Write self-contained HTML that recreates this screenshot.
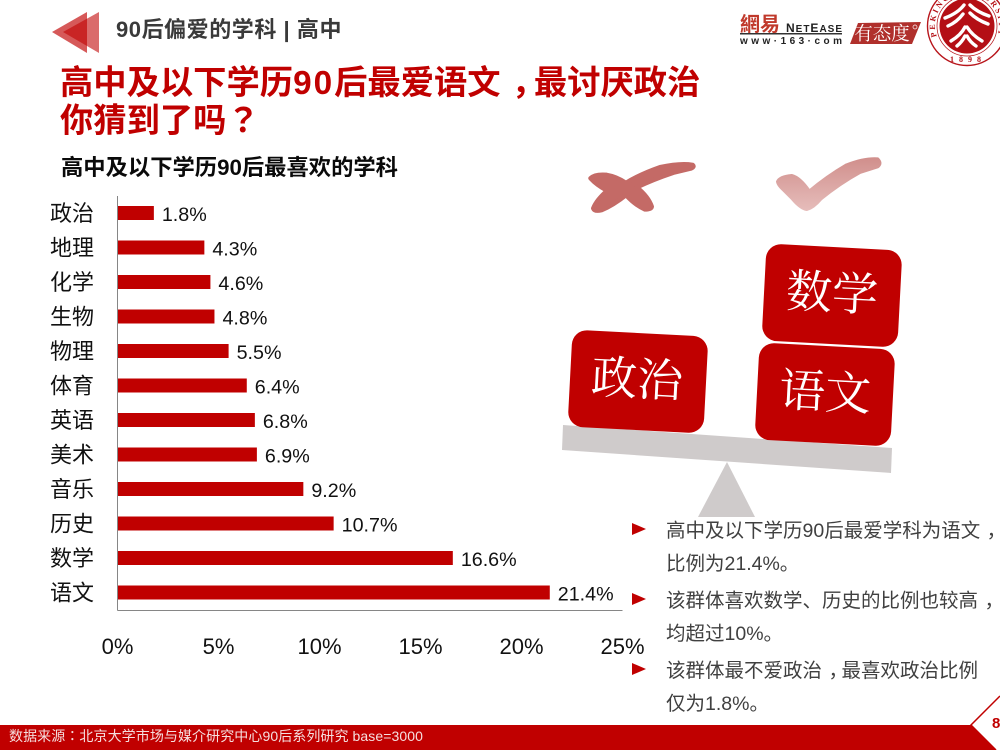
<!DOCTYPE html>
<html lang="zh-CN">
<head>
<meta charset="utf-8">
<title>90后偏爱的学科 | 高中</title>
<style>
html,body{margin:0;padding:0;background:#fff}
#page{position:relative;width:1000px;height:750px;overflow:hidden;background:#fff;font-family:"Liberation Sans","Noto Sans CJK SC",sans-serif}
.t{position:absolute;white-space:nowrap;margin:0}
.p{font-family:"Noto Sans CJK TC",sans-serif}
.c{position:relative;left:.33em}
svg{position:absolute;left:0;top:0}
</style>
</head>
<body>
<div id="page">
<svg id="deco" width="1000" height="750" viewBox="0 0 1000 750">
  <g>
    <polygon points="52,32 87,12 87,53" fill="#c00000" opacity=".65"/>
    <polygon points="63,32 99,12 99,53" fill="#c00000" opacity=".58"/>
  </g>
  <g transform="translate(550 150) scale(.3333)">
    <path fill="#c46a66" stroke="#c46a66" stroke-width="14" stroke-linejoin="round" d="M122,85 Q135,72 170,75 Q200,80 228,99 Q270,73 330,52 Q390,39 428,45 Q434,50 423,55 L370,68 Q310,88 260,112 Q295,140 305,170 Q303,178 285,178 Q255,165 228,135 Q190,165 155,180 Q134,185 130,175 Q140,150 172,122 Q140,105 122,85 Z"/>
  </g>
  <g transform="translate(550 150) scale(.3333)">
    <defs><linearGradient id="chk" gradientUnits="userSpaceOnUse" x1="0" y1="20" x2="0" y2="183"><stop offset="0" stop-color="#d08e8b"/><stop offset="1" stop-color="#e6bdbb"/></linearGradient></defs>
    <path fill="url(#chk)" stroke="url(#chk)" stroke-width="10" stroke-linejoin="round" d="M683,95 Q690,80 725,77 Q750,83 778,124 Q830,80 890,45 Q945,24 983,27 Q996,40 983,50 L930,67 Q870,100 812,147 Q790,173 770,178 Q752,175 728,147 L698,117 Q685,105 683,95 Z"/>
  </g>
  <g>
    <polygon points="563,425 892,448 891,473 562,450" fill="#cfcbcb"/>
    <polygon points="727,462 755,517 698,517" fill="#cfcbcb"/>
  </g>
  <g font-family="'Liberation Serif','Noto Serif CJK SC',serif" fill="#fff" font-size="46">
    <g transform="rotate(3 637 381)">
      <rect x="570" y="333" width="136" height="97" rx="15" fill="#c00000"/>
      <text x="637" y="395" text-anchor="middle">政治</text>
    </g>
    <g transform="rotate(3 832 295)">
      <rect x="764" y="247" width="136" height="97" rx="15" fill="#c00000"/>
      <text x="832" y="309" text-anchor="middle">数学</text>
    </g>
    <g transform="rotate(3 825 394)">
      <rect x="757" y="346" width="136" height="97" rx="15" fill="#c00000"/>
      <text x="825" y="408" text-anchor="middle">语文</text>
    </g>
  </g>
  <g>
    <text x="740" y="31" font-size="20" font-weight="700" fill="#c0392b" font-family="'Noto Sans CJK TC',sans-serif">網易</text>
    <text x="786" y="32" font-size="10" font-weight="700" fill="#222" font-family="'Liberation Sans',sans-serif" textLength="56" lengthAdjust="spacing"><tspan font-size="12">N</tspan>ET<tspan font-size="12">E</tspan>ASE</text>
    <rect x="740" y="33" width="102" height="1.5" fill="#333"/>
    <text x="740" y="44" font-size="10" font-weight="700" fill="#222" font-family="'Liberation Sans',sans-serif" textLength="102" lengthAdjust="spacing">www·163·com</text>
  </g>
  <g>
    <polygon points="858,23 921,22 912,44 850,44" fill="#b0302c"/>
    <text x="882" y="40" font-size="18.5" fill="#fff" text-anchor="middle" font-family="'Noto Serif CJK SC',serif">有态度</text>
    <circle cx="915" cy="27" r="2" fill="none" stroke="#fff" stroke-width=".7"/>
  </g>
  <g>
    <circle cx="967" cy="26" r="39.5" fill="#fff" stroke="#b8151b" stroke-width="1.4"/>
    <circle cx="967" cy="26" r="27.5" fill="#b40f15"/>
    <circle cx="967" cy="26" r="30" fill="none" stroke="#b40f15" stroke-width=".7"/>
    <g fill="none" stroke="#fff" stroke-width="3.4" stroke-linecap="round">
      <path d="M964,5 Q958,13 945,18"/>
      <path d="M963,14 Q957,22 948,26"/>
      <path d="M970,5 Q977,12 989,16"/>
      <path d="M970,13 Q977,20 988,24"/>
      <path d="M965,27 Q961,35 951,41"/>
      <path d="M967,27 Q972,35 982,41"/>
      <path d="M965,36 Q962,42 957,46"/>
      <path d="M967,36 Q970,42 976,46"/>
    </g>
    <path id="sealArc" d="M936.9,36.5 A32,32 0 1 1 997,36.5" fill="none"/>
    <text font-size="8" font-weight="700" fill="#b40f15" letter-spacing="2.3" font-family="'Liberation Serif',serif"><textPath href="#sealArc">PEKING UNIVERSITY</textPath></text>
    <text x="968" y="62" font-size="8" font-weight="700" fill="#b40f15" text-anchor="middle" letter-spacing="5" font-family="'Liberation Serif',serif">1898</text>
  </g>
  <g>
    <polygon points="0,725 971,725 996,750 0,750" fill="#c00000"/>
    <polyline points="1000,696 971,725 996,750" fill="none" stroke="#c00000" stroke-width="1.5"/>
  </g>
  <g fill="#c00000">
    <polygon points="632,523 646,529 632,535"/>
    <polygon points="632,593 646,599 632,605"/>
    <polygon points="632,663 646,669 632,675"/>
  </g>
</svg>

<svg id="chart" width="1000" height="750" viewBox="0 0 1000 750"></svg>

<p class="t" style="left:116px;top:15px;font-size:22px;line-height:30px;font-weight:700;color:#3a3a3a;letter-spacing:.55px">90后偏爱的学科 | 高中</p>
<p class="t" style="left:60px;top:65px;font-size:33.3px;line-height:38px;font-weight:700;color:#c00000">高中及以下学历<span style="letter-spacing:2px">90</span>后最爱语文<span class="c">，</span>最讨厌政治</p>
<p class="t" style="left:60px;top:99px;font-size:33.3px;line-height:38px;font-weight:700;color:#c00000">你猜到了吗<span class="p" lang="zh-TW">？</span></p>
<p class="t" style="left:61px;top:153px;font-size:22.3px;line-height:30px;font-weight:700;color:#0a0a0a">高中及以下学历90后最喜欢的学科</p>

<p class="t" style="left:666px;top:514.5px;font-size:19.5px;line-height:33px;color:#404040">高中及以下学历90后最爱学科为语文<span class="c">，</span><br>比例为21.4%。</p>
<p class="t" style="left:666px;top:584.5px;font-size:19.5px;line-height:33px;color:#404040">该群体喜欢数学、历史的比例也较高<span class="c">，</span><br>均超过10%。</p>
<p class="t" style="left:666px;top:654.5px;font-size:19.5px;line-height:33px;color:#404040">该群体最不爱政治<span class="c">，</span>最喜欢政治比例<br>仅为1.8%。</p>

<p class="t" style="left:9px;top:726px;font-size:14px;line-height:20px;color:#f5dede;letter-spacing:.08px">数据来源<span class="p" lang="zh-TW">：</span>北京大学市场与媒介研究中心90后系列研究 base=3000</p>
<p class="t" style="left:992px;top:715px;font-size:15px;line-height:18px;font-weight:700;color:#c00000">8</p>
</div>

<script>
const categories = ['政治','地理','化学','生物','物理','体育','英语','美术','音乐','历史','数学','语文'];
const seriesValues = [1.8,4.3,4.6,4.8,5.5,6.4,6.8,6.9,9.2,10.7,16.6,21.4];
const tickValues = [0,5,10,15,20,25];

const NS = 'http://www.w3.org/2000/svg';
const chart = document.getElementById('chart');
const x0 = 117.5, pxPerUnit = 20.2, rowTop = 213, rowStep = 34.5, barH = 14;
const xScale = v => x0 + v * pxPerUnit;
const yScale = i => rowTop + i * rowStep;
const FONT = '"Liberation Sans","Noto Sans CJK SC",sans-serif';

function mk(tag, attrs, text) {
  const el = document.createElementNS(NS, tag);
  Object.keys(attrs).forEach(k => el.setAttribute(k, attrs[k]));
  if (text !== undefined) el.textContent = text;
  chart.appendChild(el);
  return el;
}

categories.forEach((c, i) => {
  const y = yScale(i);
  const bar = mk('rect', {x: x0, y: y - barH / 2, width: xScale(seriesValues[i]) - x0, height: barH, fill: '#c00000'});
  
  
  const cat = mk('text', {x: 94, y: y + 8, 'text-anchor': 'end', 'font-size': 22, fill: '#111', 'font-family': FONT}, c);
  
  
  const val = mk('text', {x: xScale(seriesValues[i]) + 8, y: y + 8, 'font-size': 19.7, fill: '#111', 'font-family': FONT}, seriesValues[i].toFixed(1) + '%');
  
  
});

const yAxis = mk('line', {x1: x0, x2: x0, y1: 196, y2: 610.5, stroke: '#868686', 'stroke-width': 1});



const xAxis = mk('line', {x1: x0, x2: xScale(tickValues[tickValues.length - 1]), y1: 610.5, y2: 610.5, stroke: '#868686', 'stroke-width': 1});



tickValues.forEach(t => {
  const tick = mk('text', {x: xScale(t), y: 654, 'text-anchor': 'middle', 'font-size': 22, fill: '#111', 'font-family': FONT}, t + '%');
  
  
});
</script>
</body>
</html>
